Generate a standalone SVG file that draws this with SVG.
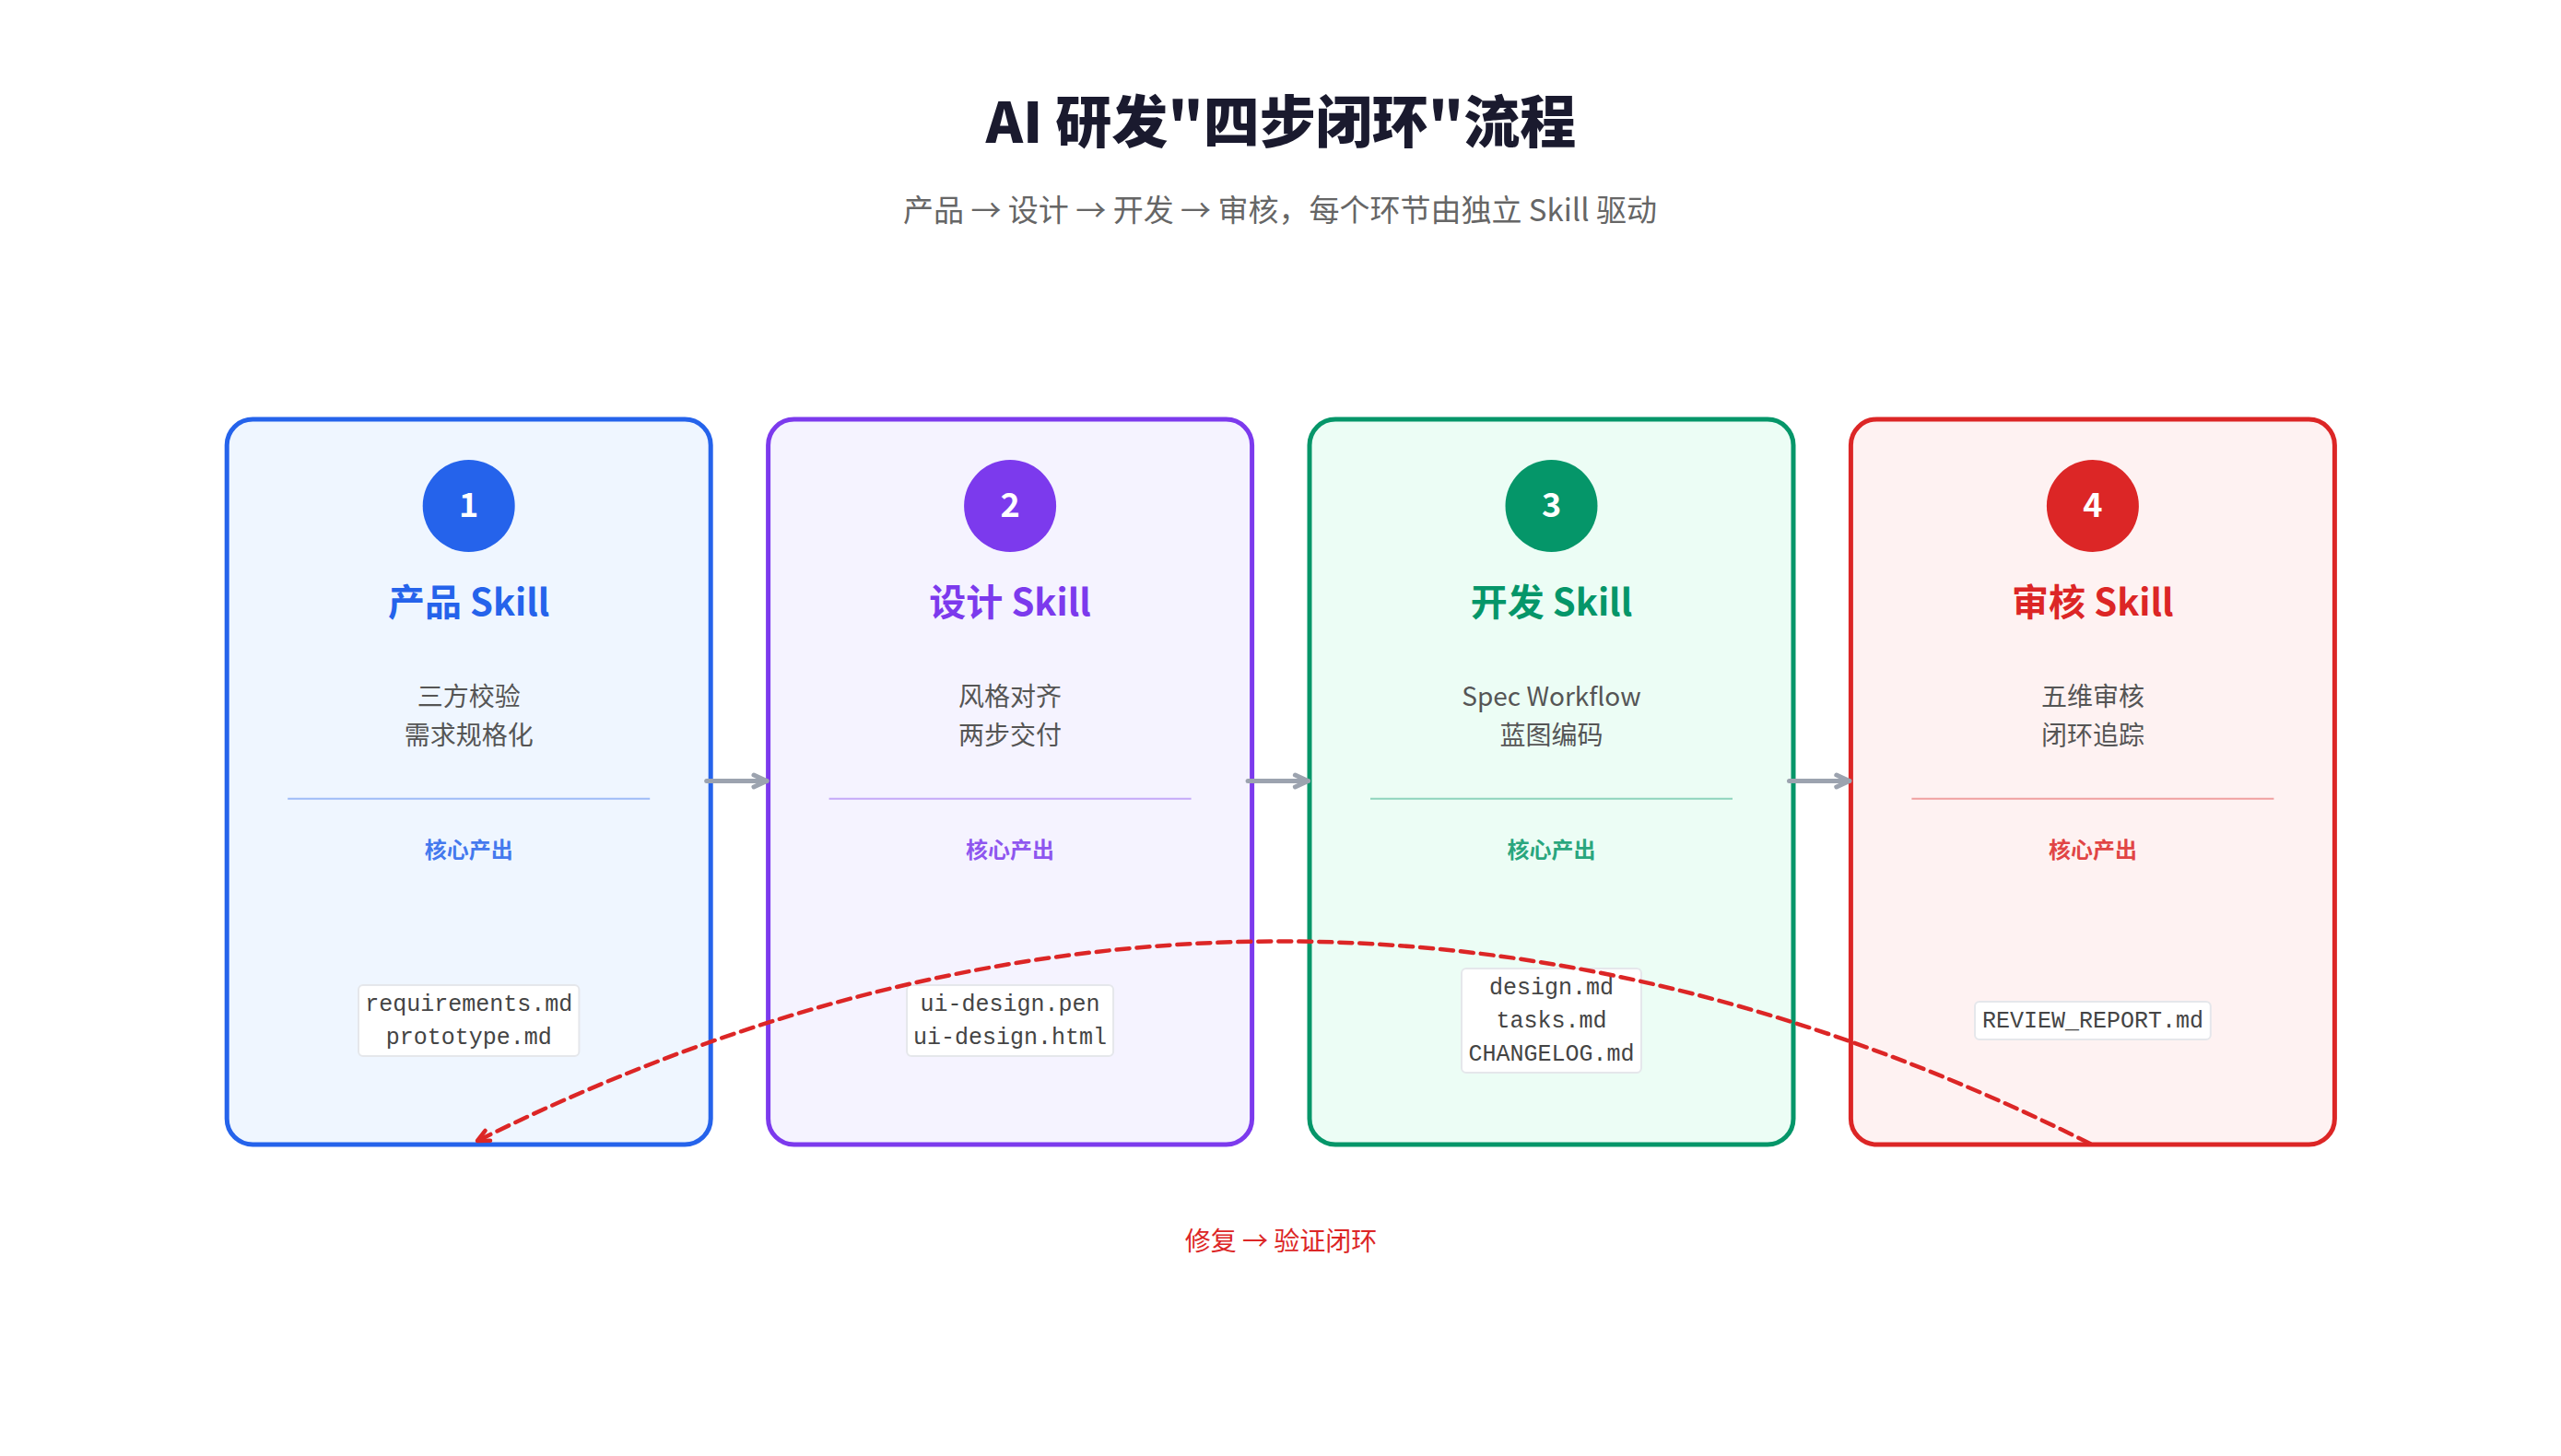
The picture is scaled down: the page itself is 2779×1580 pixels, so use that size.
<svg xmlns="http://www.w3.org/2000/svg" width="2779" height="1580" viewBox="0 0 2779 1580">
<style>
text{font-family:"Noto Sans CJK SC","Noto Sans",sans-serif;text-anchor:middle}
.title{font-size:61px;font-weight:900;fill:#1a1a2e}
.sub{font-size:33px;fill:#666666}
.card{stroke-width:5}
.num{font-size:36px;font-weight:700;fill:#ffffff}
.ct{font-size:40px;font-weight:700}
.desc{font-size:28px;fill:#555555}
.div{stroke-width:2;stroke-opacity:0.4}
.out{font-size:24px;font-weight:700;fill-opacity:0.85}
.fbox{fill:#ffffff;stroke:#e5e7eb;stroke-width:2}
.mono{font-family:"Liberation Mono","DejaVu Sans Mono",monospace;font-size:25px;fill:#444444}
.flow{fill:none;stroke:#9ca3af;stroke-width:5;stroke-linecap:round}
.loop{fill:none;stroke:#dc2626;stroke-width:4.5;stroke-linecap:round;stroke-dasharray:14 8}
.note{font-size:28px;fill:#dc2626}
</style>
<defs>
<marker id="ah" markerUnits="userSpaceOnUse" viewBox="0 0 24 24" markerWidth="24" markerHeight="24" refX="20" refY="12" orient="auto"><path d="M6 5.5 L20 12 L6 18.5" fill="none" stroke="#9ca3af" stroke-width="5" stroke-linecap="round" stroke-linejoin="round"/></marker>
<marker id="ahr" markerUnits="userSpaceOnUse" viewBox="0 0 24 24" markerWidth="24" markerHeight="24" refX="20" refY="12" orient="auto"><path d="M7.4 5.9 L20 12 L7.4 18.1" fill="none" stroke="#dc2626" stroke-width="4.5" stroke-linecap="round" stroke-linejoin="round"/></marker>
</defs>
<rect width="2779" height="1580" fill="#ffffff"/>
<g id="header">
<text class="title" x="1390" y="155">AI 研发"四步闭环"流程</text>
<text class="sub" x="1389" y="240">产品 → 设计 → 开发 → 审核，每个环节由独立 Skill 驱动</text>
</g>
<g id="node-1">
<rect class="card" x="246.2" y="455" width="525" height="787" rx="28" fill="#eff6ff" stroke="#2563eb"/>
<circle cx="508.7" cy="549" r="50" fill="#2563eb"/>
<text class="num" x="508.7" y="561">1</text>
<text class="ct" x="508.7" y="668" fill="#2563eb">产品 Skill</text>
<text class="desc" x="508.7" y="766">三方校验</text>
<text class="desc" x="508.7" y="808">需求规格化</text>
<line class="div" x1="312.2" y1="866.7" x2="705.2" y2="866.7" stroke="#2563eb"/>
<text class="out" x="508.7" y="931" fill="#2563eb">核心产出</text>
<rect class="fbox" x="389" y="1069" width="239.4" height="77" rx="5"/>
<text class="mono" x="508.7" y="1096.5">requirements.md</text>
<text class="mono" x="508.7" y="1132.5">prototype.md</text>
</g>
<g id="node-2">
<rect class="card" x="833.6" y="455" width="525" height="787" rx="28" fill="#f5f3ff" stroke="#7c3aed"/>
<circle cx="1096.1" cy="549" r="50" fill="#7c3aed"/>
<text class="num" x="1096.1" y="561">2</text>
<text class="ct" x="1096.1" y="668" fill="#7c3aed">设计 Skill</text>
<text class="desc" x="1096.1" y="766">风格对齐</text>
<text class="desc" x="1096.1" y="808">两步交付</text>
<line class="div" x1="899.6" y1="866.7" x2="1292.6" y2="866.7" stroke="#7c3aed"/>
<text class="out" x="1096.1" y="931" fill="#7c3aed">核心产出</text>
<rect class="fbox" x="984.1" y="1069" width="224" height="77" rx="5"/>
<text class="mono" x="1096.1" y="1096.5">ui-design.pen</text>
<text class="mono" x="1096.1" y="1132.5">ui-design.html</text>
</g>
<g id="node-3">
<rect class="card" x="1421" y="455" width="525" height="787" rx="28" fill="#ecfdf5" stroke="#059669"/>
<circle cx="1683.5" cy="549" r="50" fill="#059669"/>
<text class="num" x="1683.5" y="561">3</text>
<text class="ct" x="1683.5" y="668" fill="#059669">开发 Skill</text>
<text class="desc" x="1683.5" y="766">Spec Workflow</text>
<text class="desc" x="1683.5" y="808">蓝图编码</text>
<line class="div" x1="1487" y1="866.7" x2="1880" y2="866.7" stroke="#059669"/>
<text class="out" x="1683.5" y="931" fill="#059669">核心产出</text>
<rect class="fbox" x="1586" y="1051" width="195" height="113" rx="5"/>
<text class="mono" x="1683.5" y="1078.5">design.md</text>
<text class="mono" x="1683.5" y="1114.5">tasks.md</text>
<text class="mono" x="1683.5" y="1150.5">CHANGELOG.md</text>
</g>
<g id="node-4">
<rect class="card" x="2008.4" y="455" width="525" height="787" rx="28" fill="#fef2f2" stroke="#dc2626"/>
<circle cx="2270.9" cy="549" r="50" fill="#dc2626"/>
<text class="num" x="2270.9" y="561">4</text>
<text class="ct" x="2270.9" y="668" fill="#dc2626">审核 Skill</text>
<text class="desc" x="2270.9" y="766">五维审核</text>
<text class="desc" x="2270.9" y="808">闭环追踪</text>
<line class="div" x1="2074.4" y1="866.7" x2="2467.4" y2="866.7" stroke="#dc2626"/>
<text class="out" x="2270.9" y="931" fill="#dc2626">核心产出</text>
<rect class="fbox" x="2143" y="1087" width="255.8" height="41" rx="5"/>
<text class="mono" x="2270.9" y="1114.5">REVIEW_REPORT.md</text>
</g>
<g id="connectors">
<path class="flow" d="M766.7 847.5 H832" marker-end="url(#ah)"/>
<path class="flow" d="M1354.1 847.5 H1419.4" marker-end="url(#ah)"/>
<path class="flow" d="M1941.5 847.5 H2006.8" marker-end="url(#ah)"/>
<path class="loop" d="M2268 1241 Q1393 803.5 518 1238" marker-end="url(#ahr)"/>
<text class="note" x="1390" y="1357">修复 → 验证闭环</text>
</g>
</svg>
